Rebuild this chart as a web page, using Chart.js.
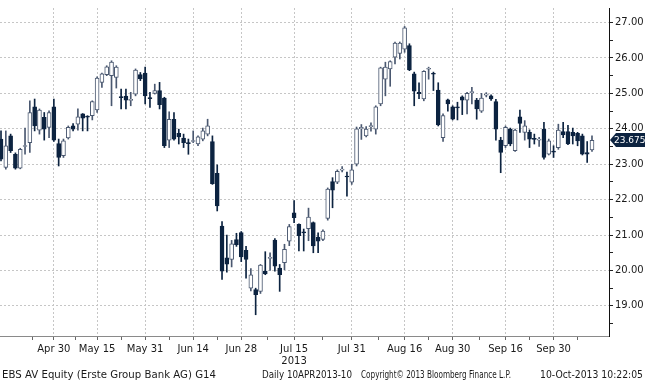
<!DOCTYPE html>
<html>
<head>
<meta charset="utf-8">
<title>EBS AV Equity</title>
<script src="https://cdn.jsdelivr.net/npm/chart.js@4.4.1/dist/chart.umd.min.js"></script>
<style>
  body { margin: 0; background: #fff; }
  #wrap { position: relative; width: 645px; height: 380px; overflow: hidden; }
  .foot { position: absolute; top: 369px; font: 10px "DejaVu Sans", sans-serif; color: #1a1a1a; white-space: nowrap; line-height: 12px; transform-origin: 0 0; }
</style>
</head>
<body>
<div id="wrap">
  <canvas id="chart" width="645" height="380"></canvas>
  <div class="foot" style="left:2px" data-w="214">EBS AV Equity (Erste Group Bank AG) G14</div>
  <div class="foot" style="left:262px" data-w="90">Daily 10APR2013-10</div>
  <div class="foot" style="left:361px" data-w="150">Copyright&copy; 2013 Bloomberg Finance L.P.</div>
  <div class="foot" style="left:540px" data-w="103">10-Oct-2013 10:22:05</div>
</div>
<script>
// daily candles (one entry per trading day)
var opens = [23.71,22.91,23.8,23.28,22.89,23.5,23.61,24.62,23.96,24.32,
  24.04,24.62,23.58,23.24,23.74,24.08,24.13,24.42,24.35,24.37,
  24.53,25.31,25.53,25.5,25.45,24.9,24.92,24.8,24.98,25.53,
  25.57,24.87,25.0,25.08,24.87,23.68,24.27,23.87,23.74,23.6,
  23.64,23.57,23.71,23.85,23.64,22.74,21.25,20.36,20.31,20.87,
  21.07,20.57,19.5,19.46,19.41,19.98,20.34,20.86,20.07,20.22,
  20.83,21.63,21.3,21.08,21.18,21.35,20.94,20.88,21.47,22.51,
  22.49,22.83,22.66,22.49,23.0,24.0,23.8,24.06,23.99,24.7,
  25.4,25.69,26.02,26.13,26.25,26.35,25.55,25.03,24.84,25.68,
  25.56,25.09,23.75,24.82,24.62,24.61,24.9,24.81,25.02,24.81,
  24.5,24.95,24.93,24.77,23.68,23.52,23.99,23.38,24.34,23.9,
  23.9,23.72,23.68,23.99,23.28,23.36,23.47,23.92,23.92,23.9,
  23.87,23.8,23.33,23.4];
var highs = [23.94,23.94,23.85,23.32,23.45,24.02,24.79,24.84,24.56,24.46,
  24.51,24.84,23.71,23.71,24.08,24.15,24.56,24.43,24.37,24.79,
  25.47,25.57,25.78,25.92,25.78,25.12,25.12,25.03,25.69,25.59,
  25.74,25.03,25.26,25.31,24.89,24.48,24.46,23.99,23.85,23.71,
  23.94,23.8,24.02,24.27,23.8,22.98,21.38,21.0,20.85,21.05,
  21.1,20.68,20.05,19.5,20.17,20.53,20.5,20.9,20.17,20.74,
  21.3,21.97,21.32,21.17,21.76,21.37,21.06,21.15,22.33,22.62,
  22.84,22.93,22.78,23.0,24.05,24.12,24.06,24.17,24.65,25.74,
  25.88,25.92,26.45,26.45,26.89,26.4,25.6,25.3,25.64,25.74,
  25.6,25.3,24.42,24.84,24.65,24.75,24.93,25.03,25.17,24.86,
  25.0,25.02,24.96,24.83,23.76,24.08,24.02,23.99,24.53,24.23,
  23.97,23.85,23.76,24.18,23.71,23.52,24.13,24.18,24.1,24.02,
  23.9,23.85,23.64,23.8];
var lows = [23.09,22.86,23.33,22.86,22.87,23.28,23.33,23.94,23.85,23.68,
  23.75,23.64,22.95,23.19,23.71,23.94,23.96,23.94,23.94,24.25,
  24.46,25.17,25.5,24.65,25.15,24.56,24.56,24.65,24.93,25.36,
  24.7,24.6,24.98,24.56,23.47,23.47,23.68,23.57,23.47,23.28,
  23.61,23.52,23.66,23.8,22.43,21.68,19.75,19.95,20.1,20.68,
  20.25,19.78,19.42,18.75,19.35,19.88,20.0,19.98,19.41,20.02,
  20.7,21.35,20.55,20.55,20.84,20.5,20.5,20.84,21.42,21.77,
  22.45,22.78,22.1,22.43,22.95,23.7,23.77,23.93,23.85,24.65,
  24.93,25.2,25.83,25.97,26.16,25.64,24.65,24.85,24.79,25.4,
  25.08,24.08,23.64,24.5,24.25,24.25,24.4,24.42,24.7,24.27,
  24.46,24.9,24.8,23.68,22.76,23.47,23.52,23.36,23.9,23.68,
  23.47,23.57,23.5,23.14,23.26,23.19,23.42,23.75,23.55,23.57,
  23.52,23.26,23.05,23.36];
var closes = [23.14,23.52,23.38,22.89,23.42,23.5,24.46,24.08,24.53,23.99,
  24.46,23.68,23.19,23.66,24.04,23.99,24.34,24.3,24.33,24.77,
  25.43,25.55,25.75,25.88,25.74,24.88,24.81,24.83,25.66,25.41,
  24.93,24.85,25.08,24.68,23.52,24.27,23.71,23.77,23.61,23.58,
  23.67,23.77,23.94,24.08,22.45,21.82,19.98,20.18,20.75,20.73,
  20.38,20.31,19.88,19.32,20.15,19.9,20.37,20.12,19.88,20.6,
  21.24,21.49,20.98,21.06,21.51,20.69,20.83,21.11,22.3,22.27,
  22.8,22.86,22.64,22.84,24.0,24.04,23.99,24.09,24.62,25.72,
  25.74,25.9,26.42,26.42,26.85,25.66,25.06,24.99,25.62,25.71,
  25.54,24.11,24.37,24.7,24.27,24.59,24.81,25.0,25.04,24.56,
  24.87,24.97,24.84,23.99,23.33,24.04,23.57,23.96,24.15,24.08,
  23.71,23.7,23.69,23.19,23.66,23.34,23.96,23.83,23.57,23.8,
  23.66,23.28,23.28,23.675];

// date labels and the candle each one sits under
var tickLabels = ['Apr 30', 'May 15', 'May 31', 'Jun 14', 'Jun 28', 'Jul 15', 'Jul 31', 'Aug 16', 'Aug 30', 'Sep 16', 'Sep 30'];
var tickAt = [11, 20, 30, 40, 50, 61, 73, 84, 94, 105, 115];
var yearLabel = '2013';
var yearUnder = 'Jul 15';
var priceTicks = [19, 20, 21, 22, 23, 24, 25, 26, 27];

var NAVY = '#0c2340';
var UPLINE = '#4a5870';

var up = closes.map(function (c, i) { return c >= opens[i]; });

// squeeze footer strings to the widths they take in the terminal font
document.querySelectorAll('.foot').forEach(function (el) {
    var w = el.getBoundingClientRect().width;
    el.style.transform = 'scaleX(' + (Number(el.dataset.w) / w) + ')';
});

var lastTag = {
    id: 'lastTag',
    afterDraw: function (chart) {
        var ctx = chart.ctx;
        var v = closes[closes.length - 1];
        var py = Math.round(chart.scales.y.getPixelForValue(v));
        var x0 = chart.chartArea.right;
        ctx.save();
        ctx.fillStyle = NAVY;
        ctx.beginPath();
        ctx.moveTo(x0 + 1, py);
        ctx.lineTo(x0 + 7, py - 7);
        ctx.lineTo(645, py - 7);
        ctx.lineTo(645, py + 7);
        ctx.lineTo(x0 + 7, py + 7);
        ctx.closePath();
        ctx.fill();
        ctx.fillStyle = '#fff';
        ctx.font = '9px "DejaVu Sans"';
        ctx.textBaseline = 'middle';
        ctx.fillText(String(v), x0 + 5, py + 1);
        ctx.restore();
    }
};

Chart.defaults.font.family = '"DejaVu Sans", sans-serif';
Chart.defaults.font.size = 10;
Chart.defaults.color = '#1a1a1a';

var ctx = document.getElementById('chart').getContext('2d');
var chart = new Chart(ctx, {
    type: 'bar',
    data: {
        datasets: [{
            // high-low wicks
            label: 'range',
            data: highs.map(function (h, i) { return { x: i, y: [lows[i], h] }; }),
            backgroundColor: up.map(function (u) { return u ? UPLINE : NAVY; }),
            barThickness: 1,
            grouped: false,
            order: 2
        }, {
            // open-close bodies
            label: 'body',
            data: opens.map(function (o, i) { return { x: i, y: [o, closes[i]] }; }),
            backgroundColor: up.map(function (u) { return u ? '#ffffff' : NAVY; }),
            borderColor: up.map(function (u) { return u ? UPLINE : NAVY; }),
            borderWidth: 1,
            borderSkipped: false,
            barThickness: 4,
            minBarLength: 1,
            grouped: false,
            order: 1
        }]
    },
    options: {
        responsive: false,
        animation: false,
        devicePixelRatio: 1,
        layout: { padding: 0, autoPadding: false },
        plugins: { legend: { display: false }, tooltip: { enabled: false } },
        scales: {
            x: {
                type: 'linear',
                min: -0.21,
                max: 126.54,
                offset: false,
                afterBuildTicks: function (s) {
                    var t = [];
                    var step0 = tickAt[1] - tickAt[0];
                    t.push({ value: tickAt[0] - step0 / 2 });
                    for (var i = 0; i < tickAt.length; i++) {
                        t.push({ value: tickAt[i] });
                        var nxt = i < tickAt.length - 1 ? tickAt[i + 1] : tickAt[i] + (tickAt[i] - tickAt[i - 1]);
                        t.push({ value: (tickAt[i] + nxt) / 2 });
                    }
                    s.ticks = t;
                },
                afterFit: function (s) { s.height = 44; },
                ticks: {
                    autoSkip: false,
                    maxRotation: 0,
                    padding: 3,
                    callback: function (v) {
                        var k = tickAt.indexOf(v);
                        if (k < 0) return '';
                        return tickLabels[k] === yearUnder ? [tickLabels[k], yearLabel] : tickLabels[k];
                    }
                },
                grid: {
                    offset: false,
                    color: function (c) { return c.tick && tickAt.indexOf(c.tick.value) >= 0 ? '#c6c6c6' : 'rgba(0,0,0,0)'; },
                    tickColor: '#666',
                    tickLength: 4
                },
                border: { color: '#8a8a8a', dash: [2, 2] }
            },
            y: {
                position: 'right',
                min: 18.15,
                max: 27.41,
                afterBuildTicks: function (s) {
                    var t = [];
                    priceTicks.forEach(function (p) {
                        t.push({ value: p - 0.5 });
                        t.push({ value: p });
                    });
                    s.ticks = t;
                },
                afterFit: function (s) { s.width = 36; },
                ticks: {
                    padding: 2,
                    callback: function (v) { return priceTicks.indexOf(v) >= 0 ? v.toFixed(2) : ''; }
                },
                grid: {
                    color: function (c) { return c.tick && priceTicks.indexOf(c.tick.value) >= 0 ? '#c6c6c6' : 'rgba(0,0,0,0)'; },
                    tickColor: '#222',
                    tickLength: 4
                },
                border: { color: '#111', dash: [2, 2] }
            }
        }
    },
    plugins: [lastTag]
});
</script>
</body>
</html>
